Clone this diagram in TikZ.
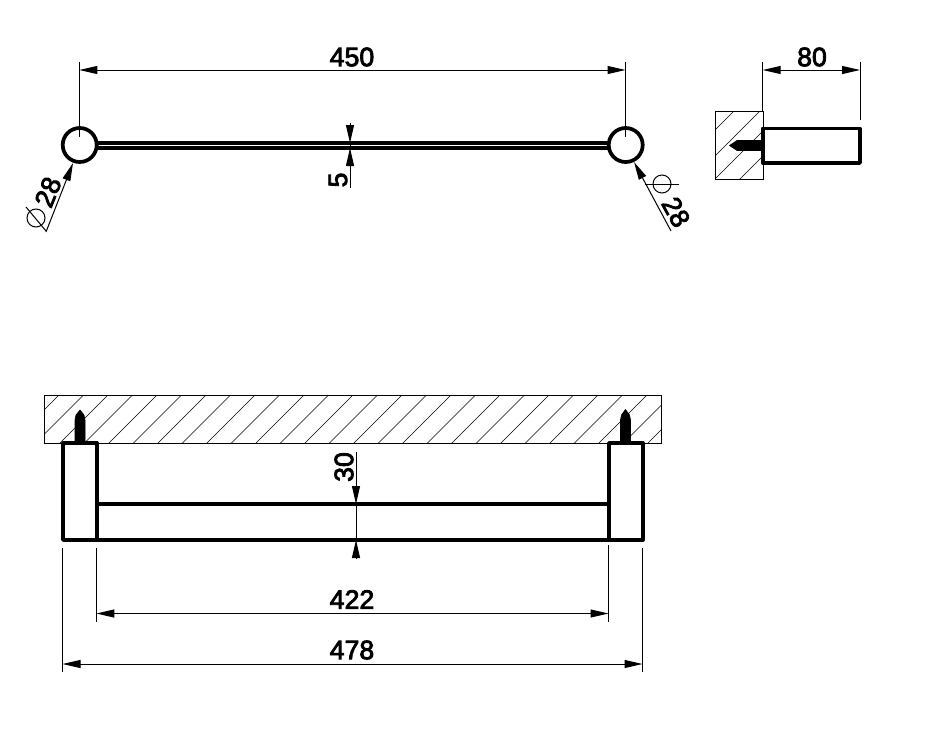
\documentclass[tikz,border=0pt]{standalone}
\usepackage{fontspec}
\newfontfamily\dimfont[FakeBold=3]{Liberation Sans}
\usetikzlibrary{arrows.meta,positioning}
\tikzset{
    part/.style={line width=2.8pt, line join=round, line cap=round},
    thin line/.style={line width=0.75pt},
    hatch/.style={line width=0.5pt},
    dim/.style={line width=0.75pt, {Triangle[length=13.5pt,width=6pt]}-{Triangle[length=13.5pt,width=6pt]}},
    tip end/.style={line width=0.75pt, -{Triangle[length=13.5pt,width=6pt]}},
    dimtext/.style={inner sep=0pt, font=\fontsize{20}{20}\selectfont\dimfont},
    screw/.style={fill=black, draw=black, line width=0.5pt, line join=round},
}
\begin{document}
\begin{tikzpicture}[x=0.75pt, y=-0.75pt]
    \useasboundingbox (0,0) rectangle (935,739);

    % top view
    \node[circle, draw, part, minimum size=25.5pt, inner sep=0pt] (ballL) at (79.7,145) {};
    \node[circle, draw, part, minimum size=25.5pt, inner sep=0pt] (ballR) at (625.7,145) {};
    \draw[part, line cap=butt] (97,142.7) -- (609,142.7);
    \draw[part, line cap=butt] (97,148) -- (609,148);

    \coordinate (a1) at (79.3,62);
    \coordinate (a2) at (625.5,62);
    \coordinate (a3) at (79.3,137);
    \coordinate (a4) at (625.5,137);
    \coordinate (a5) at (79.3,70);
    \coordinate (a6) at (625.5,70);
    \draw[thin line] (a1) -- (a3);
    \draw[thin line] (a2) -- (a4);
    \draw[dim] (a5) -- (a6);
    \node[dimtext] (len450) at (352,57) {450};

    % rail thickness
    \coordinate (b1) at (350,123);
    \coordinate (b2) at (350,143);
    \coordinate (b3) at (350,188);
    \coordinate (b4) at (350,148);
    \draw[tip end] (b1) -- (b2);
    \draw[tip end] (b3) -- (b4);
    \draw[thin line] (b2) -- (b4);
    \node[dimtext, rotate=90] (thick5) at (338,180) {5};

    % left diameter
    \coordinate (c1) at (46,232);
    \coordinate (c2) at (73,163);
    \coordinate (c3) at (26,207);
    \coordinate (c4) at (46,231);
    \coordinate (c5) at (36,218);
    \draw[tip end] (c1) -- (c2);
    \draw[thin line] (c3) -- (c4);
    \draw[thin line] (c5) circle (9);
    \node[dimtext, rotate=68] (diaL) at (48,192) {28};

    % right diameter
    \coordinate (d1) at (671,231);
    \coordinate (d2) at (634,162);
    \coordinate (d3) at (645,184);
    \coordinate (d4) at (679,184);
    \coordinate (d5) at (662,184);
    \draw[tip end] (d1) -- (d2);
    \draw[thin line] (d3) -- (d4);
    \draw[thin line] (d5) circle (9);
    \node[dimtext, rotate=-61] (diaR) at (676,212) {28};

    % side view
    \begin{scope}
        \clip (715,111) rectangle (763,179);
        \foreach \c in {845,871,894,919}
            \draw[hatch] (\c-100,100) -- (\c-190,190);
    \end{scope}
    \draw[thin line] (715,111) rectangle (763,179);
    \draw[screw] (763,140.5) -- (737,140.5) -- (729.5,145.5) -- (737,150.5) -- (763,150.5) -- cycle;
    \draw[part] (762.7,128.5) rectangle (860,163);

    \coordinate (e1) at (762.7,62);
    \coordinate (e2) at (860,62);
    \coordinate (e3) at (762.7,111);
    \coordinate (e4) at (860,120);
    \coordinate (e5) at (762.7,70);
    \coordinate (e6) at (860,70);
    \draw[thin line] (e1) -- (e3);
    \draw[thin line] (e2) -- (e4);
    \draw[dim] (e5) -- (e6);
    \node[dimtext] (len80) at (812,57) {80};

    % front view
    \begin{scope}
        \clip (44,395) rectangle (661,443);
        \foreach \k in {0,...,27}
            \draw[hatch] ({454+24.5*\k-380},380) -- ({454+24.5*\k-460},460);
    \end{scope}
    \draw[thin line] (44,395) rectangle (661,443);

    \draw[screw] (75,443) -- (75,420) -- (76,415) -- (80,410) -- (84,415) -- (85,420) -- (85,443) -- cycle;
    \draw[screw] (620.5,443) -- (620.5,420) -- (621.5,415) -- (625.5,409.5) -- (629.5,415) -- (630.5,420) -- (630.5,443) -- cycle;

    \draw[part] (63,443) rectangle (96.7,540);
    \draw[part] (609,443) rectangle (642.7,540);
    \draw[part] (96.7,504) -- (609,504);
    \draw[part] (96.7,540) -- (609,540);

    % rail height
    \coordinate (f1) at (356,452);
    \coordinate (f2) at (356,504);
    \coordinate (f3) at (356,559);
    \coordinate (f4) at (356,540);
    \draw[tip end] (f1) -- (f2);
    \draw[tip end] (f3) -- (f4);
    \draw[thin line] (f2) -- (f4);
    \node[dimtext, rotate=90] (high30) at (344,467) {30};

    % widths
    \coordinate (g1) at (62.5,548);
    \coordinate (g2) at (62.5,672);
    \coordinate (g3) at (96.3,548);
    \coordinate (g4) at (96.3,622);
    \coordinate (g5) at (608.5,545);
    \coordinate (g6) at (608.5,622);
    \coordinate (g7) at (642.5,548);
    \coordinate (g8) at (642.5,672);
    \draw[thin line] (g1) -- (g2);
    \draw[thin line] (g3) -- (g4);
    \draw[thin line] (g5) -- (g6);
    \draw[thin line] (g7) -- (g8);

    \coordinate (h1) at (96.3,613.5);
    \coordinate (h2) at (608.5,613.5);
    \coordinate (h3) at (62.5,664);
    \coordinate (h4) at (642.5,664);
    \draw[dim] (h1) -- (h2);
    \draw[dim] (h3) -- (h4);
    \node[dimtext] (len422) at (352,599.5) {422};
    \node[dimtext] (len478) at (352,650) {478};
\end{tikzpicture}
\end{document}
